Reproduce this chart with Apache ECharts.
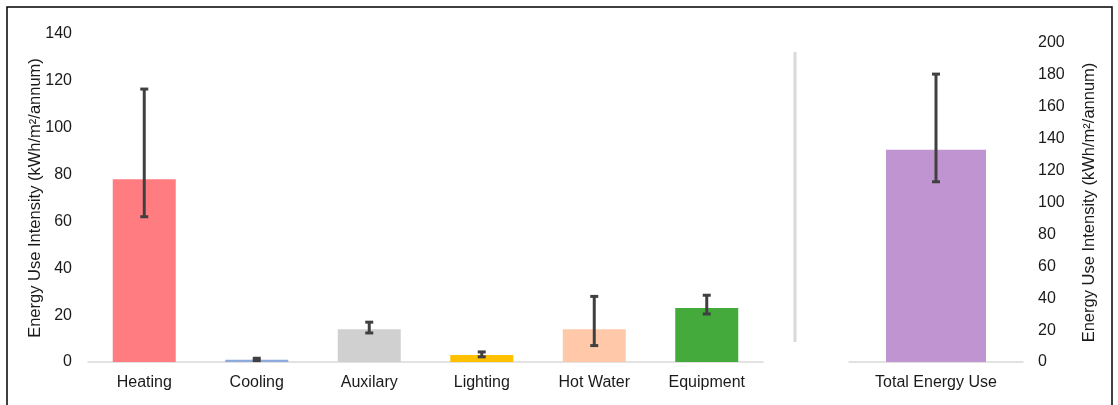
<!DOCTYPE html>
<html>
<head>
<meta charset="utf-8">
<script src="https://cdn.jsdelivr.net/npm/echarts@6/dist/echarts.min.js"></script>
<style>
html,body{margin:0;padding:0;background:#fff;}
#main{width:1118px;height:405px;}
</style>
</head>
<body>
<div id="main"></div>
<script>
// end-use categories (left panel)
var categories = ['Heating','Cooling','Auxilary','Lighting','Hot Water','Equipment'];
var values     = [78, 1, 14, 3, 14, 23];
var errLow     = [62, 0.6, 12.4, 2.2, 7, 20.5];
var errHigh    = [116.5, 1.6, 17, 4.3, 28, 28.5];
var barColors  = ['#ff7c80','#8ea9db','#d0d0d0','#ffc000','#ffc9a9','#44aa3c'];

// total (right panel)
var totalCat   = ['Total Energy Use'];
var totalVal   = [133];
var totalLow   = [113];
var totalHigh  = [180.5];

var axisName = 'Energy Use Intensity (kWh/m\u00b2/annum)';
var font = 'Liberation Sans, Arial, sans-serif';

function errItem(params, api){
    var x = api.value(0);
    var lo = api.coord([x, api.value(1)]);
    var hi = api.coord([x, api.value(2)]);
    var cap = 4;
    var st = {stroke:'#404040', lineWidth:3};
    return {
        type:'group',
        children:[
            {type:'line', shape:{x1:lo[0],y1:lo[1],x2:hi[0],y2:hi[1]}, style:st},
            {type:'line', shape:{x1:lo[0]-cap,y1:lo[1],x2:lo[0]+cap,y2:lo[1]}, style:st},
            {type:'line', shape:{x1:hi[0]-cap,y1:hi[1],x2:hi[0]+cap,y2:hi[1]}, style:st}
        ]
    };
}

var errData = categories.map(function(c,i){ return [i, errLow[i], errHigh[i]]; });
var totErrData = totalCat.map(function(c,i){ return [i, totalLow[i], totalHigh[i]]; });

var chart = echarts.init(document.getElementById('main'));
chart.setOption({
    animation:false,
    textStyle:{fontFamily:font},
    grid:[
        {left:88, right:355, top:34, bottom:43},
        {left:849, right:95, top:43, bottom:43}
    ],
    xAxis:[
        {
            type:'category', gridIndex:0, data:categories,
            axisLine:{lineStyle:{color:'#d9d9d9', width:1.5}},
            axisTick:{show:false},
            axisLabel:{color:'#1a1a1a', fontSize:16, margin:13, interval:0}
        },
        {
            type:'category', gridIndex:1, data:totalCat,
            axisLine:{lineStyle:{color:'#d9d9d9', width:1.5}},
            axisTick:{show:false},
            axisLabel:{color:'#1a1a1a', fontSize:16, margin:13}
        }
    ],
    yAxis:[
        {
            type:'value', gridIndex:0, min:0, max:140, interval:20,
            name:axisName, nameLocation:'middle', nameGap:44, nameRotate:90,
            nameMoveOverlap:false,
            nameTextStyle:{color:'#1a1a1a', fontSize:16.5},
            axisLine:{show:false}, axisTick:{show:false}, splitLine:{show:false},
            axisLabel:{color:'#1a1a1a', fontSize:16, margin:16}
        },
        {
            type:'value', gridIndex:1, position:'right', min:0, max:200, interval:20,
            name:axisName, nameLocation:'middle', nameGap:58, nameRotate:90,
            nameTextStyle:{color:'#1a1a1a', fontSize:16.5},
            axisLine:{show:false}, axisTick:{show:false}, splitLine:{show:false},
            axisLabel:{color:'#1a1a1a', fontSize:16, margin:15}
        }
    ],
    series:[
        {
            type:'bar', xAxisIndex:0, yAxisIndex:0, barWidth:'56%',
            data:values.map(function(v,i){ return {value:v, itemStyle:{color:barColors[i]}}; })
        },
        {
            type:'custom', xAxisIndex:0, yAxisIndex:0, renderItem:errItem,
            data:errData, z:5
        },
        {
            type:'bar', xAxisIndex:1, yAxisIndex:1, barWidth:100,
            itemStyle:{color:'#bf94d0'}, data:totalVal
        },
        {
            type:'custom', xAxisIndex:1, yAxisIndex:1, renderItem:errItem,
            data:totErrData, z:5
        }
    ],
    graphic:[
        {type:'rect', shape:{x:7, y:7, width:1105, height:405}, style:{fill:'none', stroke:'#000', lineWidth:1.5}, silent:true},
        {type:'line', shape:{x1:795, y1:52, x2:795, y2:342}, style:{stroke:'#d9d9d9', lineWidth:3}, silent:true}
    ]
});
</script>
</body>
</html>
